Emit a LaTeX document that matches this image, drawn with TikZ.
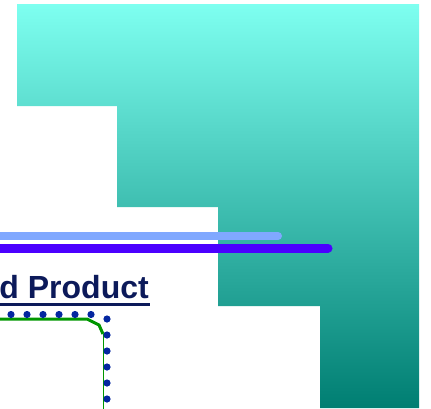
\documentclass[tikz,border=0pt]{standalone}
\usepackage{fontspec}
\setmainfont{Liberation Sans}
\definecolor{tealtop}{RGB}{126,255,240}
\definecolor{tealbot}{RGB}{0,126,114}
\definecolor{lightblue}{RGB}{128,168,255}
\definecolor{vivpurple}{RGB}{75,0,255}
\definecolor{navytext}{RGB}{12,26,90}
\definecolor{dotblue}{RGB}{4,38,160}
\definecolor{greenline}{RGB}{0,150,0}
\tikzset{
  bluedot/.style={fill=dotblue},
  barline/.style={line cap=round},
}
\begin{document}
\begin{tikzpicture}[x=1pt,y=-1pt]
\useasboundingbox (0,0) rectangle (431,408);
% staircase
\shade[top color=tealtop,bottom color=tealbot]
  (17,4) -- (419,4) -- (419,408) -- (320,408) -- (320,306) -- (218,306)
  -- (218,207) -- (117,207) -- (117,106) -- (17,106) -- cycle;
% bars
\draw[barline,lightblue,line width=8] (-10,236) -- (278,236);
\draw[barline,vivpurple,line width=9] (-10,248) -- (328,248);
% title
\node[anchor=base east,inner sep=0,font=\bfseries\fontsize{32}{32}\selectfont,text=navytext] (title) at (149,298.5) {d Product};
\fill[navytext] (-5,302.5) rectangle (150,306);
% green path
\draw[greenline,line width=3] (-5,319) -- (87,319) -- (99,325) -- (103,334);
\draw[greenline,line width=1] (103,334) -- (103,410);
% dots
\foreach \x in {11,27,43,59,75,91} \fill[bluedot] (\x,314.5) circle (3.6);
\foreach \y in {319,335,351,367,383,399} \fill[bluedot] (107,\y) circle (3.6);
\end{tikzpicture}
\end{document}
